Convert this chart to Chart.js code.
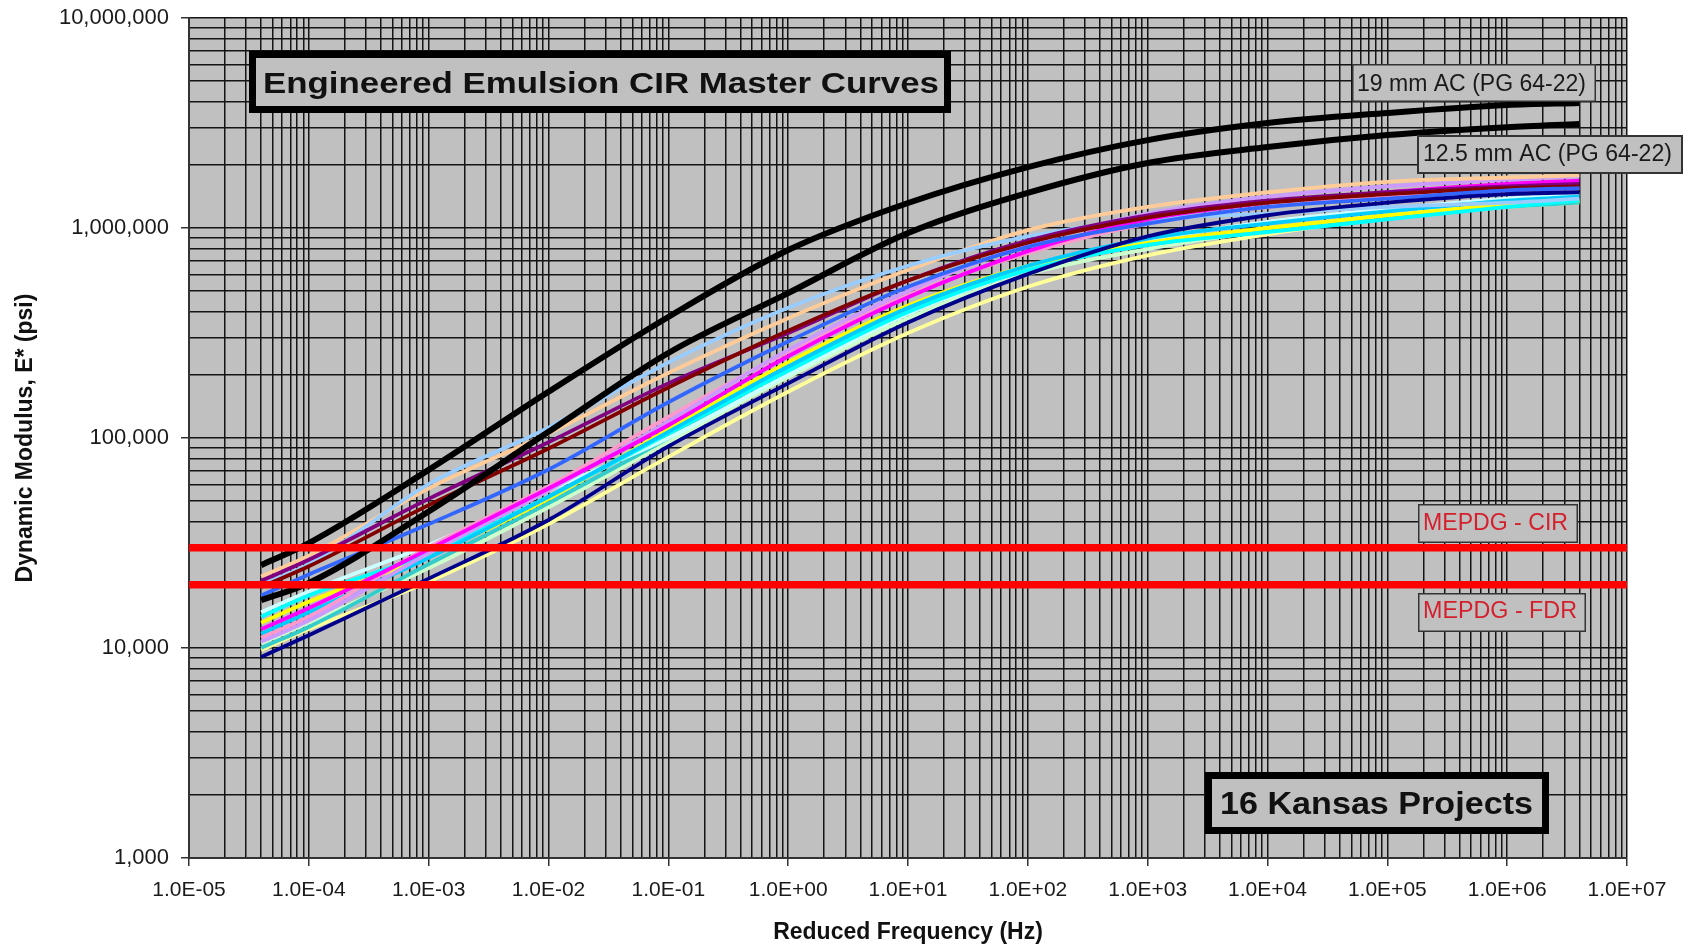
<!DOCTYPE html>
<html><head><meta charset="utf-8">
<script src="https://cdn.jsdelivr.net/npm/chart.js@4.4.1/dist/chart.umd.min.js"></script>
<style>html,body{margin:0;padding:0;background:#fff;}canvas{display:block;}</style>
</head><body>
<canvas id="c" width="1689" height="948"></canvas>
<script>
// Reduced frequency (Hz) at which each master curve was read
const frequencies = [4e-5, 1e-4, 1e-3, 1e-2, 1e-1, 1, 10, 100, 1e3, 1e4, 1e5, 1e6, 4e6];

// Hot-mix references (psi)
const ac19  = [24800, 31600, 70500, 166000, 377000, 785000, 1315000, 1950000, 2620000, 3160000, 3530000, 3850000, 3940000];
const ac125 = [16900, 20400, 44700, 107000, 254000, 490000, 946000, 1470000, 2040000, 2430000, 2770000, 3020000, 3130000];

// 16 Kansas CIR projects (psi)
const p01 = [20000, 25100, 60300, 112000, 229000, 417000, 661000, 912000, 1100000, 1170000, 1260000, 1320000, 1380000];
const p02 = [21900, 27500, 57500, 105000, 204000, 372000, 631000, 977000, 1260000, 1480000, 1660000, 1740000, 1780000];
const p03 = [19500, 24500, 47900, 89100, 174000, 324000, 562000, 851000, 1120000, 1320000, 1450000, 1550000, 1580000];
const p04 = [20900, 26300, 51300, 95500, 182000, 316000, 562000, 871000, 1150000, 1350000, 1480000, 1580000, 1620000];
const p05 = [17800, 22400, 38900, 70800, 148000, 288000, 525000, 813000, 1050000, 1260000, 1380000, 1510000, 1550000];
const p06 = [10700, 13500, 28200, 56200, 120000, 263000, 501000, 832000, 1170000, 1410000, 1580000, 1700000, 1760000];
const p07 = [12300, 15500, 29500, 57500, 115000, 245000, 468000, 776000, 1100000, 1320000, 1480000, 1620000, 1680000];
const p08 = [11200, 14100, 30200, 58900, 126000, 257000, 479000, 759000, 1050000, 1260000, 1410000, 1510000, 1550000];
const p09 = [11700, 14800, 26900, 52500, 107000, 219000, 417000, 661000, 891000, 1050000, 1200000, 1350000, 1410000];
const p10 = [14100, 17800, 28200, 52500, 105000, 209000, 398000, 631000, 832000, 955000, 1100000, 1260000, 1350000];
const p11 = [13200, 16600, 27500, 51300, 110000, 229000, 427000, 661000, 851000, 1000000, 1150000, 1290000, 1350000];
const p12 = [14800, 18600, 30900, 56200, 100000, 200000, 389000, 631000, 871000, 1070000, 1230000, 1380000, 1450000];
const p13 = [10000, 12600, 25100, 49000, 100000, 214000, 407000, 646000, 832000, 977000, 1120000, 1260000, 1320000];
const p14 = [10500, 13200, 24000, 46800, 95500, 195000, 372000, 603000, 794000, 977000, 1150000, 1290000, 1360000];
const p15 = [9060, 11500, 21400, 40700, 91200, 182000, 355000, 603000, 912000, 1150000, 1320000, 1450000, 1480000];
const p16 = [9770, 12300, 20700, 38900, 81300, 166000, 316000, 525000, 741000, 933000, 1120000, 1260000, 1320000];

// MEPDG default moduli (psi)
const mepdgCIR = 30000;
const mepdgFDR = 20000;

// Axis decades and their labels
const xDecades = [1e-5, 1e-4, 1e-3, 1e-2, 1e-1, 1, 10, 100, 1e3, 1e4, 1e5, 1e6, 1e7];
const xTickLabels = ['1.0E-05','1.0E-04','1.0E-03','1.0E-02','1.0E-01','1.0E+00','1.0E+01','1.0E+02','1.0E+03','1.0E+04','1.0E+05','1.0E+06','1.0E+07'];
const yDecades = [1e3, 1e4, 1e5, 1e6, 1e7];
const yTickLabels = ['1,000','10,000','100,000','1,000,000','10,000,000'];

const projects = [p15, p05, p03, p04, p07, p01, p02, p06, p08, p09, p10, p11, p12, p13, p14, p16];
const projectColors = ['#00008b','#3366ff','#800000','#800080','#ff00ff','#99ccff','#ffcc99','#cc99ff','#ff99cc','#00ccff','#00ffff','#ffff00','#ccffff','#33cccc','#ccffcc','#ffff99'];

function pts(vals){ return frequencies.map((f,i)=>({x:f, y:vals[i]})); }
function hline(v){ return [{x:xDecades[0], y:v},{x:xDecades[xDecades.length-1], y:v}]; }
function logTicks(decades, labels){
  const t=[];
  for(let d=0; d<decades.length; d++){
    t.push({value:decades[d], major:true, lbl:labels[d]});
    if(d<decades.length-1) for(let m=2;m<=9;m++) t.push({value:m*decades[d], major:false, lbl:''});
  }
  return t;
}

const datasets = [
  {data:hline(mepdgCIR), borderColor:'#ff0000', borderWidth:7.5},
  {data:hline(mepdgFDR), borderColor:'#ff0000', borderWidth:7.5},
  {data:pts(ac19), borderColor:'#000', borderWidth:6, cubicInterpolationMode:'monotone'},
  {data:pts(ac125), borderColor:'#000', borderWidth:6, cubicInterpolationMode:'monotone'}
];
projects.forEach((p,i)=>datasets.push({data:pts(p), borderColor:projectColors[i], borderWidth:3.8, cubicInterpolationMode:'monotone'}));

const boxes = [
  {text:'Engineered Emulsion CIR Master Curves', x:249, y:51, w:702, h:62, b:7, font:'bold 30px "Liberation Sans", Arial, sans-serif', color:'#111', tx:263, base:93, tw:676},
  {text:'16 Kansas Projects', x:1205, y:772, w:344, h:62, b:7, font:'bold 31px "Liberation Sans", Arial, sans-serif', color:'#111', tx:1220, base:814, tw:313},
  {text:'19 mm AC (PG 64-22)', x:1352, y:64, w:244, h:38, b:1.5, font:'23px "Liberation Sans", Arial, sans-serif', color:'#1a1a1a', tx:1357, base:91, tw:229},
  {text:'12.5 mm AC (PG 64-22)', x:1417, y:135, w:266, h:39, b:2, font:'23px "Liberation Sans", Arial, sans-serif', color:'#1a1a1a', tx:1423, base:161, tw:249},
  {text:'MEPDG - CIR', x:1418, y:504, w:160, h:39, b:1.5, font:'23px "Liberation Sans", Arial, sans-serif', color:'#d4202c', tx:1423, base:530, tw:145},
  {text:'MEPDG - FDR', x:1418, y:593, w:168, h:39, b:1.5, font:'23px "Liberation Sans", Arial, sans-serif', color:'#d4202c', tx:1423, base:618, tw:154}
];

const bgPlugin = {id:'bg', beforeDraw(chart){
  const {ctx, chartArea:a} = chart;
  ctx.save(); ctx.fillStyle='#c0c0c0'; ctx.fillRect(a.left, a.top, a.right-a.left, a.bottom-a.top); ctx.restore();
}};
const boxPlugin = {id:'boxes', afterDraw(chart){
  const ctx = chart.ctx;
  boxes.forEach(bx=>{
    ctx.save();
    ctx.fillStyle='#c0c0c0'; ctx.fillRect(bx.x, bx.y, bx.w, bx.h);
    ctx.lineWidth=bx.b; ctx.strokeStyle = bx.b>3 ? '#000' : '#333';
    ctx.strokeRect(bx.x+bx.b/2, bx.y+bx.b/2, bx.w-bx.b, bx.h-bx.b);
    ctx.font=bx.font; ctx.fillStyle=bx.color; ctx.textBaseline='alphabetic'; ctx.textAlign='left';
    const mw = ctx.measureText(bx.text).width;
    ctx.translate(bx.tx, bx.base); ctx.scale(bx.tw/mw, 1);
    ctx.fillText(bx.text, 0, 0);
    ctx.restore();
  });
}};

Chart.defaults.font.family = '"Liberation Sans", Arial, sans-serif';
const gridOpts = {color:'#141414', lineWidth:1.5, tickLength:8, tickWidth:1.5,
  tickColor: c => (c.tick && c.tick.major) ? '#333' : 'rgba(0,0,0,0)'};

new Chart(document.getElementById('c'), {
  type:'line',
  data:{datasets},
  plugins:[bgPlugin, boxPlugin],
  options:{
    responsive:false, animation:false,
    layout:{padding:{left:0, right:62, top:18, bottom:0}},
    elements:{point:{radius:0}, line:{fill:false, borderCapStyle:'butt'}},
    plugins:{legend:{display:false}, tooltip:{enabled:false}, title:{display:false}},
    scales:{
      x:{type:'logarithmic', min:xDecades[0], max:xDecades[xDecades.length-1],
        afterBuildTicks: s => { s.ticks = logTicks(xDecades, xTickLabels); },
        afterFit: s => { s.height = 90; s.paddingLeft = 0; s.paddingRight = 0; },
        grid:gridOpts, border:{display:true, color:'#333', width:2},
        ticks:{autoSkip:false, maxRotation:0, padding:12, color:'#1a1a1a', font:{size:21},
          callback:(v,i,t)=>t[i].lbl},
        title:{display:true, text:'Reduced Frequency (Hz)', color:'#111', font:{size:23, weight:'bold'}, padding:{top:0, bottom:2}}
      },
      y:{type:'logarithmic', min:yDecades[0], max:yDecades[yDecades.length-1],
        afterBuildTicks: s => { s.ticks = logTicks(yDecades, yTickLabels); },
        afterFit: s => { s.width = 189; s.paddingTop = 0; s.paddingBottom = 0; },
        grid:gridOpts, border:{display:true, color:'#333', width:2},
        ticks:{autoSkip:false, padding:12, color:'#1a1a1a', font:{size:22},
          callback:(v,i,t)=>t[i].lbl},
        title:{display:true, text:'Dynamic Modulus, E* (psi)', color:'#111', font:{size:23, weight:'bold'}, padding:{top:12, bottom:0}}
      }
    }
  }
});
</script>
</body></html>
